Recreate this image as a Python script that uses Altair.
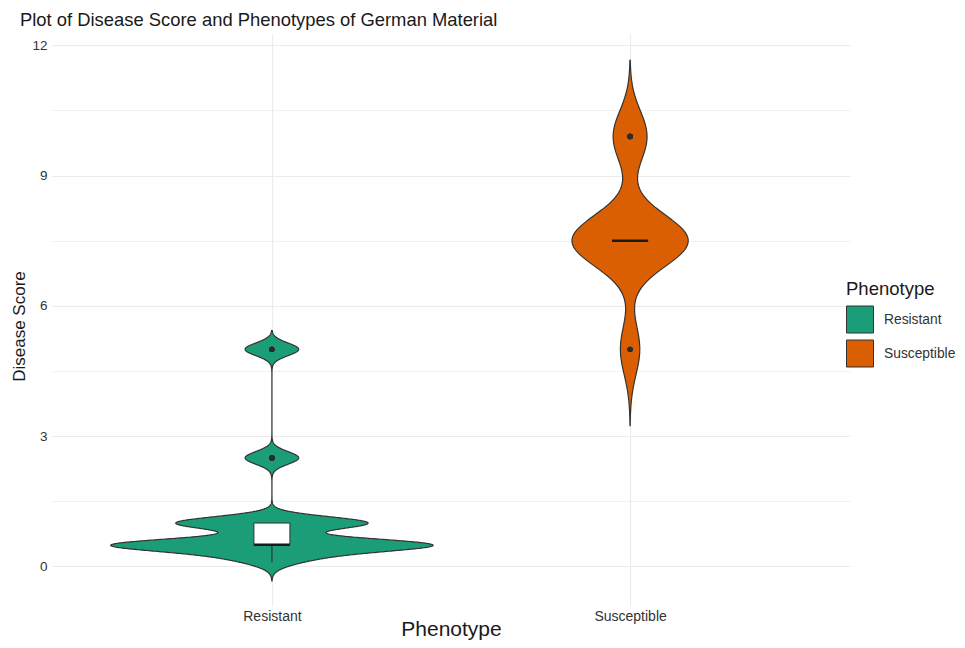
import altair as alt
import pandas as pd

# ---------------- data ----------------
phenotypes = ["Resistant", "Susceptible"]
resistant_scores = [0.1, 0.25, 0.5, 1.0, 2.5, 5.0]
resistant_counts = [3, 8, 40, 25, 7, 7]
susceptible_scores = [5.0, 7.5, 9.9]
susceptible_counts = [4, 24, 7]
bandwidths = [0.145, 0.59]          # kernel bandwidth of each violin
colors = ["#1B9E77", "#D95F02"]
y_ticks = [0, 3, 6, 9, 12]
title_text = "Plot of Disease Score and Phenotypes of German Material"

rows = []
groups = [(resistant_scores, resistant_counts), (susceptible_scores, susceptible_counts)]
for i, (vals, cnts) in enumerate(groups):
    for v, c in zip(vals, cnts):
        rows += [{"Phenotype": phenotypes[i], "Score": v, "pos": i + 1, "bw": bandwidths[i]}] * c
df = pd.DataFrame(rows)

grid_values = sorted(set(y_ticks + [(a + b) / 2 for a, b in zip(y_ticks[:-1], y_ticks[1:])]))
label_expr_x = "[" + ",".join("'%s'" % p for p in phenotypes) + "][datum.value - 1]"

FONT = "Liberation Sans"
y_scale = alt.Scale(domain=[-0.91, 12.26], nice=False, zero=False)
x_scale = alt.Scale(domain=[0.4, 2.6], nice=False, zero=False)

y_axis = alt.Axis(
    values=grid_values,
    labelExpr="datum.value % 3 === 0 ? datum.label : ''",
    ticks=False, domain=False, grid=True, gridColor="#EBEBEB",
    gridWidth={"condition": {"test": "datum.value % 3 === 0", "value": 1.2}, "value": 0.7},
    labelFontSize=13.5, labelColor="#333333", labelPadding=5,
    title="Disease Score", titleFontSize=17, titleFontWeight="normal", titleColor="#1a1a1a",
    titleX=-33, titleY=292, titleBaseline="middle", titleAlign="center", titleAngle=270,
)
x_axis = alt.Axis(
    values=[1, 2], labelExpr=label_expr_x,
    ticks=False, domain=False, grid=True, gridColor="#EBEBEB", gridWidth=1.2,
    labelFontSize=14, labelColor="#333333", labelPadding=3,
    title="Phenotype", titleFontSize=21, titleFontWeight="normal", titleColor="#1a1a1a",
    titleY=23, titleBaseline="middle",
)

violin = alt.Chart(df).transform_joinaggregate(
    lo="min(Score)", hi="max(Score)", groupby=["Phenotype"]
).transform_calculate(
    z="datum.Score / datum.bw"
).transform_density(
    "z", as_=["z", "dens"], groupby=["Phenotype", "pos", "bw", "lo", "hi"],
    bandwidth=1, extent=[-3, 38], steps=1400
).transform_calculate(
    Score="datum.z * datum.bw", density="datum.dens / datum.bw"
).transform_filter(
    "datum.Score >= datum.lo - 3 * datum.bw && datum.Score <= datum.hi + 3 * datum.bw"
).transform_joinaggregate(
    maxd="max(density)"
).transform_calculate(
    left="datum.pos - 0.45 * datum.density / datum.maxd",
    right="datum.pos + 0.45 * datum.density / datum.maxd",
).mark_area(orient="horizontal", stroke="#333333", strokeWidth=1.2, opacity=1).encode(
    y=alt.Y("Score:Q", scale=y_scale, axis=y_axis, title="Disease Score"),
    x=alt.X("left:Q", stack=False, scale=x_scale, axis=x_axis, title="Phenotype"),
    x2="right:Q",
    color=alt.Color(
        "Phenotype:N",
        scale=alt.Scale(domain=phenotypes, range=colors),
        legend=alt.Legend(
            title="Phenotype", orient="none", legendX=794, legendY=246,
            symbolType="square", symbolSize=729, symbolStrokeColor="#333333",
            symbolStrokeWidth=1, symbolOpacity=1,
            titleFontSize=18.5, titleFontWeight="normal", titleColor="#1a1a1a",
            labelFontSize=13.8, labelColor="#333333", labelOffset=10,
            rowPadding=2, titlePadding=7,
        ),
    ),
)

box = alt.Chart(df).mark_boxplot(
    size=36, extent=1.5, orient="vertical", ticks=False,
    box={"color": "white", "stroke": "#333333", "strokeWidth": 1},
    median={"color": "#1a1a1a", "fill": "#1a1a1a", "thickness": 2.5, "opacity": 1},
    rule={"color": "#333333", "strokeWidth": 1.2, "opacity": 1},
    outliers={"color": "#2b2b2b", "size": 28, "filled": True, "opacity": 1},
).encode(
    x=alt.X("pos:Q", scale=x_scale, title="Phenotype"),
    y=alt.Y("Score:Q", scale=y_scale, title="Disease Score"),
)

chart = alt.layer(violin, box).properties(
    width=798, height=572,
    autosize=alt.AutoSizeParams(type="none"),
    padding={"left": 44, "top": 26, "right": 107, "bottom": 34},
    title=alt.Title(title_text, anchor="start", frame="group", dx=-32, dy=20,
                    fontSize=18.4, fontWeight="normal", color="#1a1a1a",
                    baseline="alphabetic", offset=9.5),
).configure(font=FONT).configure_view(strokeWidth=0)

chart.save("out.html", embed_options={"renderer": "svg", "actions": False})
